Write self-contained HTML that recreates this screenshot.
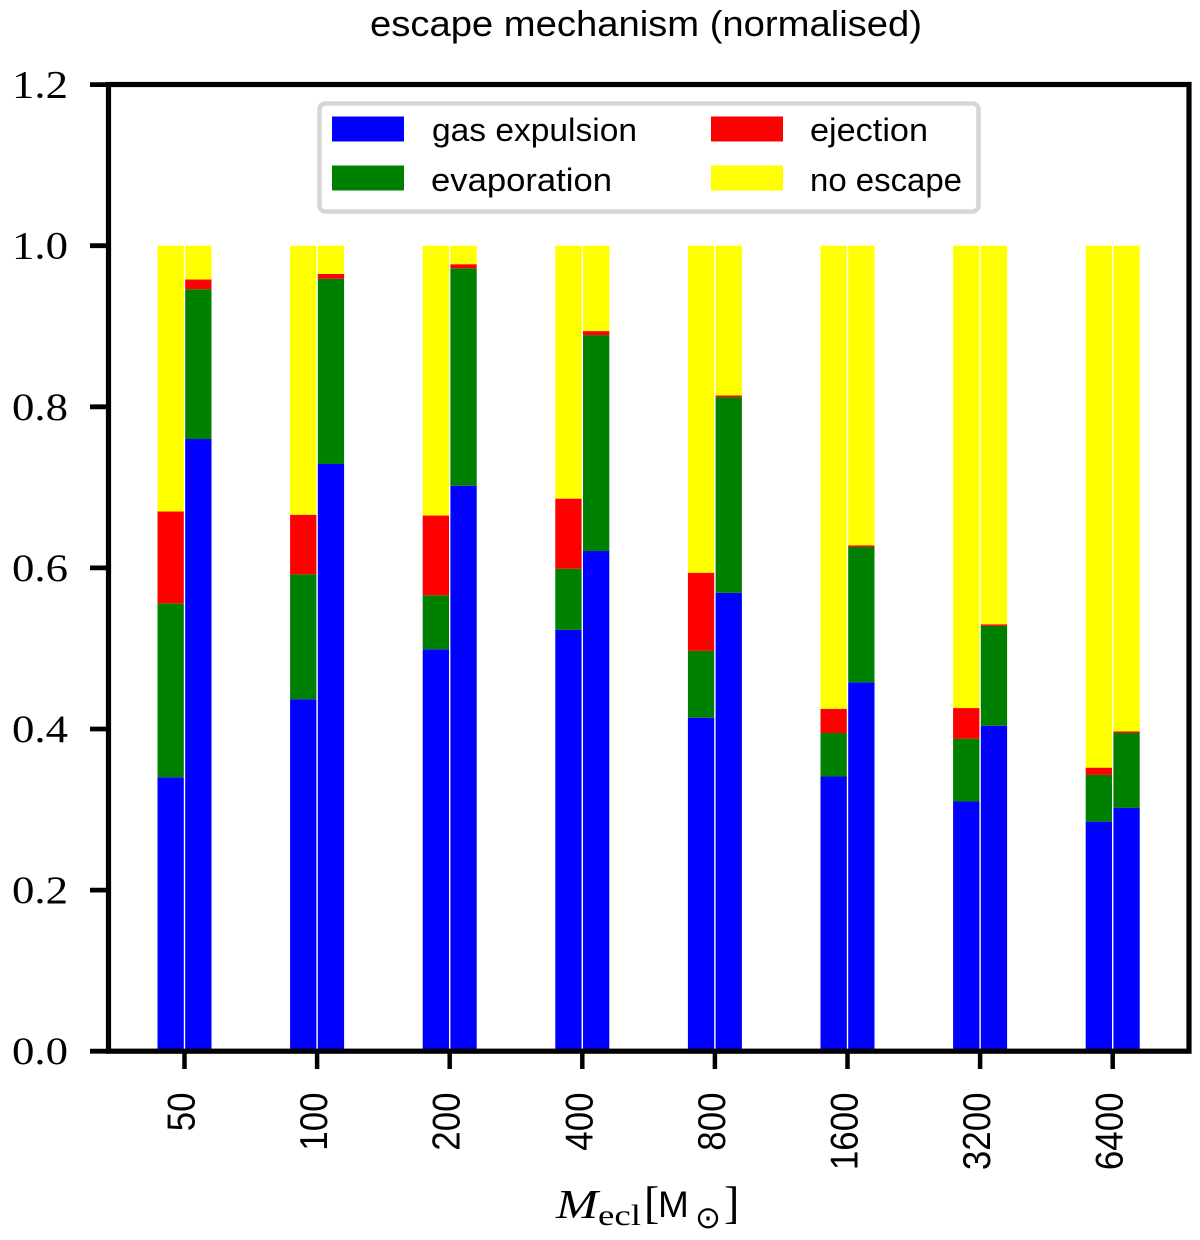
<!DOCTYPE html>
<html lang="en">
<head>
<meta charset="utf-8">
<title>escape mechanism (normalised)</title>
<style>
html,body{margin:0;padding:0;background:#fff;}
svg{display:block;}
.sans{font-family:"Liberation Sans",sans-serif;fill:#000;}
.serif{font-family:"Liberation Serif",serif;fill:#000;}
</style>
</head>
<body>
<svg id="chart" width="1200" height="1240" viewBox="0 0 1200 1240" xmlns="http://www.w3.org/2000/svg">
  <rect x="0" y="0" width="1200" height="1240" fill="#fff"/>
  <text class="sans" x="646" y="36" font-size="36" text-anchor="middle" textLength="552" lengthAdjust="spacingAndGlyphs">escape mechanism (normalised)</text>
  <g id="bars"></g>
  <g id="axes"></g>
  <g>
    <rect x="319.5" y="103.5" width="659" height="108" rx="6" ry="6" fill="#fff" stroke="#d6d6d6" stroke-width="4.5"/>
    <rect x="332" y="116.5" width="72" height="25" fill="#0000ff"/>
    <text class="sans" x="432" y="141" font-size="32" textLength="205" lengthAdjust="spacingAndGlyphs">gas expulsion</text>
    <rect x="332" y="165.5" width="72" height="25" fill="#008000"/>
    <text class="sans" x="431" y="191" font-size="32" textLength="181" lengthAdjust="spacingAndGlyphs">evaporation</text>
    <rect x="711" y="116.5" width="72" height="25" fill="#ff0000"/>
    <text class="sans" x="810" y="141" font-size="32" textLength="118" lengthAdjust="spacingAndGlyphs">ejection</text>
    <rect x="711" y="165.5" width="72" height="25" fill="#ffff00"/>
    <text class="sans" x="810" y="191" font-size="32" textLength="152" lengthAdjust="spacingAndGlyphs">no escape</text>
  </g>
  <g>
    <text class="serif" x="556" y="1218" font-size="41" font-style="italic" textLength="42" lengthAdjust="spacingAndGlyphs">M</text>
    <text class="serif" x="598" y="1225" font-size="30" textLength="43" lengthAdjust="spacingAndGlyphs">ecl</text>
    <text class="serif" x="644" y="1218" font-size="46">[</text>
    <text class="sans" x="658" y="1217" font-size="37">M</text>
    <text class="serif" x="695" y="1228" font-size="31" style="font-family:'DejaVu Sans',sans-serif">&#8857;</text>
    <text class="serif" x="724" y="1218" font-size="46">]</text>
  </g>
</svg>
<script>
var categories = ['50', '100', '200', '400', '800', '1600', '3200', '6400'];
var yTickLabels = ['0.0', '0.2', '0.4', '0.6', '0.8', '1.0', '1.2'];
var yTickValues = [0, 0.2, 0.4, 0.6, 0.8, 1.0, 1.2];

var seriesColors = ['#0000ff', '#008000', '#ff0000', '#ffff00'];
var seriesNames = ['gas-expulsion', 'evaporation', 'ejection', 'no-escape'];

var gasExpulsionLeft = [0.340, 0.437, 0.499, 0.523, 0.414, 0.341, 0.310, 0.285];
var evaporationLeft = [0.216, 0.155, 0.067, 0.076, 0.083, 0.054, 0.078, 0.058];
var ejectionLeft = [0.114, 0.074, 0.099, 0.087, 0.097, 0.030, 0.038, 0.009];
var noEscapeLeft = [0.330, 0.334, 0.335, 0.314, 0.406, 0.575, 0.574, 0.648];

var gasExpulsionRight = [0.760, 0.729, 0.702, 0.621, 0.569, 0.458, 0.404, 0.302];
var evaporationRight = [0.186, 0.230, 0.270, 0.268, 0.243, 0.168, 0.124, 0.093];
var ejectionRight = [0.012, 0.006, 0.005, 0.005, 0.002, 0.002, 0.002, 0.002];
var noEscapeRight = [0.042, 0.035, 0.023, 0.106, 0.186, 0.372, 0.470, 0.603];

var leftStack = [gasExpulsionLeft, evaporationLeft, ejectionLeft, noEscapeLeft];
var rightStack = [gasExpulsionRight, evaporationRight, ejectionRight, noEscapeRight];

var NS = 'http://www.w3.org/2000/svg';
function yScale(v) { return 1051.2 - v * 805.5; }
function xScale(i) { return 184.5 + i * 132.6; }

function make(tag, attrs, parent) {
  var el = document.createElementNS(NS, tag);
  for (var k in attrs) { el.setAttribute(k, attrs[k]); }
  parent.appendChild(el);
  return el;
}

var barsGroup = document.getElementById('bars');
var axesGroup = document.getElementById('axes');

function drawStack(stack, side, x0, x1) {
  for (var i = 0; i < categories.length; i++) {
    var acc = 0;
    for (var s = 0; s < stack.length; s++) {
      var v = stack[s][i];
      var top = yScale(acc + v);
      var bottom = yScale(acc);
      var r = make('rect', {
        x: xScale(i) + x0,
        y: top,
        width: x1 - x0,
        height: bottom - top,
        fill: seriesColors[s]
      }, barsGroup);
      
      
      acc += v;
    }
  }
}
drawStack(leftStack, 'left', -27, -0.7);
drawStack(rightStack, 'right', 0.7, 27);

var frame = make('rect', { x: 108.5, y: 84.5, width: 1080.5, height: 966.7, fill: 'none', stroke: '#000', 'stroke-width': 5.2 }, axesGroup);



for (var t = 0; t < yTickValues.length; t++) {
  var py = yScale(yTickValues[t]);
  var tick = make('line', { x1: 90, x2: 108.5, y1: py, y2: py, stroke: '#000', 'stroke-width': 4.8 }, axesGroup);
  
  
  var yLabel = make('text', { x: 12, y: py + 13, 'font-size': 39, 'class': 'serif', textLength: 56, lengthAdjust: 'spacingAndGlyphs' }, axesGroup);
  
  
  yLabel.textContent = yTickLabels[t];
}

for (var c = 0; c < categories.length; c++) {
  var px = xScale(c);
  var xTick = make('line', { x1: px, x2: px, y1: 1051.2, y2: 1069, stroke: '#000', 'stroke-width': 4.5 }, axesGroup);
  
  
  var digits = categories[c].length;
  var xLabel = make('text', {
    transform: 'translate(' + (px + 10) + ' 1092.5) rotate(-90)',
    'text-anchor': 'end',
    'font-size': 39,
    'class': 'sans',
    textLength: digits * 19.4,
    lengthAdjust: 'spacingAndGlyphs'
  }, axesGroup);
  
  
  xLabel.textContent = categories[c];
}
</script>
</body>
</html>
